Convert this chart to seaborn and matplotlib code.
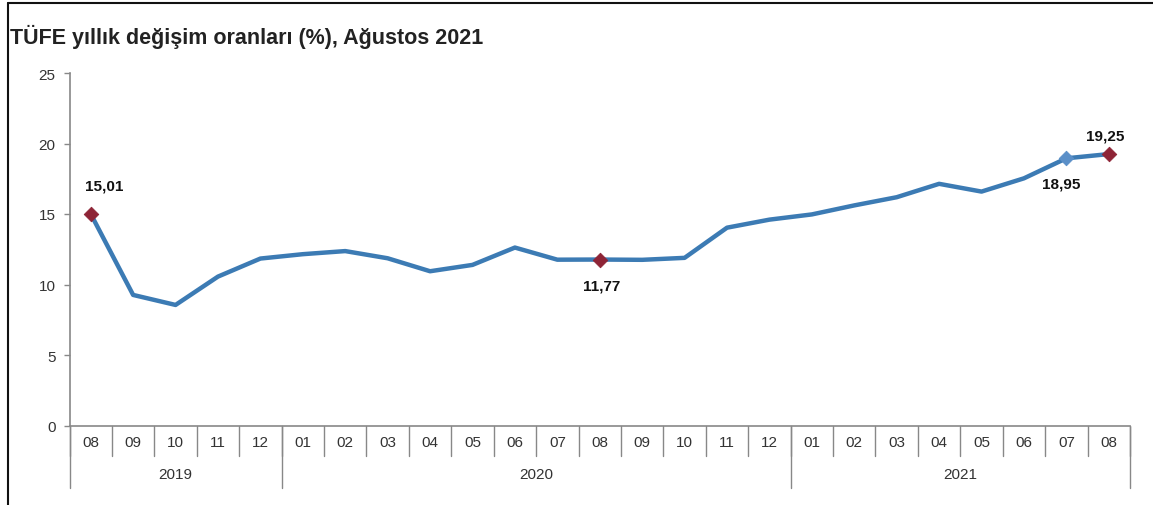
import matplotlib
matplotlib.use("Agg")
import matplotlib.pyplot as plt
import matplotlib.transforms as mtrans
import seaborn as sns
import pandas as pd
import numpy as np

months = ["08", "09", "10", "11", "12",
          "01", "02", "03", "04", "05", "06", "07", "08", "09", "10", "11", "12",
          "01", "02", "03", "04", "05", "06", "07", "08"]
years = ["2019", "2020", "2021"]
year_counts = [5, 12, 8]
values = [15.01, 9.26, 8.55, 10.56, 11.84,
          12.15, 12.37, 11.86, 10.94, 11.39, 12.62, 11.76, 11.77, 11.75, 11.89, 14.03, 14.60,
          14.97, 15.61, 16.19, 17.14, 16.59, 17.53, 18.95, 19.25]
highlight_red = [0, 12, 24]
highlight_blue = [23]
labels = {0: "15,01", 12: "11,77", 23: "18,95", 24: "19,25"}
yticks = [0, 5, 10, 15, 20, 25]

sns.set_theme(style="white")
plt.rcParams['font.family'] = ['Liberation Sans', 'DejaVu Sans']

df = pd.DataFrame({"idx": np.arange(len(values)), "val": values, "month": months})

fig = plt.figure(figsize=(11.53, 5.06), dpi=100)
W, H = 1153, 506
x0, x1, ytop, ybot = 69.5, 1130, 74, 426.5
ax = fig.add_axes([x0 / W, 1 - ybot / H, (x1 - x0) / W, (ybot - ytop) / H])

line_color = "#3C7BB4"
red = "#8E2436"

sns.lineplot(data=df, x="idx", y="val", ax=ax, color=line_color, linewidth=3.2)
sns.scatterplot(data=df.iloc[highlight_red], x="idx", y="val", ax=ax, color=red,
                marker="D", s=55, edgecolor=red, zorder=5)
sns.scatterplot(data=df.iloc[highlight_blue], x="idx", y="val", ax=ax, color="#5A8FC8",
                marker="D", s=55, edgecolor="#5A8FC8", zorder=5)

# offsets in pixels (dx right, dy up)
offsets = {0: (13, 28), 12: (2, -26), 23: (-5, -25), 24: (-4, 19)}
for i, txt in labels.items():
    dx, dy = offsets[i]
    ax.annotate(txt, (i, values[i]), xytext=(dx * 0.72, dy * 0.72), textcoords="offset points",
                ha="center", va="center", fontsize=11, fontweight="bold", color="#111111")

ax.set_xlim(-0.5, len(values) - 0.5)
ax.set_ylim(0, 25)
ax.set_yticks(yticks)
ax.set_yticklabels([str(t) for t in yticks], fontsize=11, color="#333333")
ax.tick_params(axis="y", length=4.5, width=1, color="#888888", pad=5.5, left=True)
ax.set_xticks([])
ax.set_xlabel("")
ax.set_ylabel("")
for s in ["top", "right"]:
    ax.spines[s].set_visible(False)
for s in ["left", "bottom"]:
    ax.spines[s].set_color("#888888")
    ax.spines[s].set_linewidth(1.2)

trans = mtrans.blended_transform_factory(ax.transData, ax.transAxes)
axh = (ybot - ytop)
m_depth = 30 / axh
y_depth = 62 / axh
for k in range(len(values) + 1):
    ax.plot([k - 0.5, k - 0.5], [0, -m_depth], transform=trans, color="#888888",
            linewidth=1, clip_on=False)
for i, m in enumerate(months):
    ax.text(i, -17 / axh, m, transform=trans, ha="center", va="center",
            fontsize=11, color="#333333")
start = 0
bounds = [-0.5]
for y, c in zip(years, year_counts):
    ax.text(start + (c - 1) / 2, -49 / axh, y, transform=trans, ha="center", va="center",
            fontsize=11, color="#333333")
    start += c
    bounds.append(start - 0.5)
for b in bounds:
    ax.plot([b, b], [0, -y_depth], transform=trans, color="#888888",
            linewidth=1, clip_on=False)

fig.text(10 / W, 1 - 37 / H, "TÜFE yıllık değişim oranları (%), Ağustos 2021",
         fontsize=15.5, fontweight="bold", color="#222222", ha="left", va="center")

fig.add_artist(plt.Line2D([8 / W, 8 / W], [0, 1 - 3.5 / H], transform=fig.transFigure,
                          color="#111111", linewidth=1.5))
fig.add_artist(plt.Line2D([8 / W, 1], [1 - 3.5 / H, 1 - 3.5 / H], transform=fig.transFigure,
                          color="#111111", linewidth=1.5))

fig.savefig("out.png", dpi=100)
